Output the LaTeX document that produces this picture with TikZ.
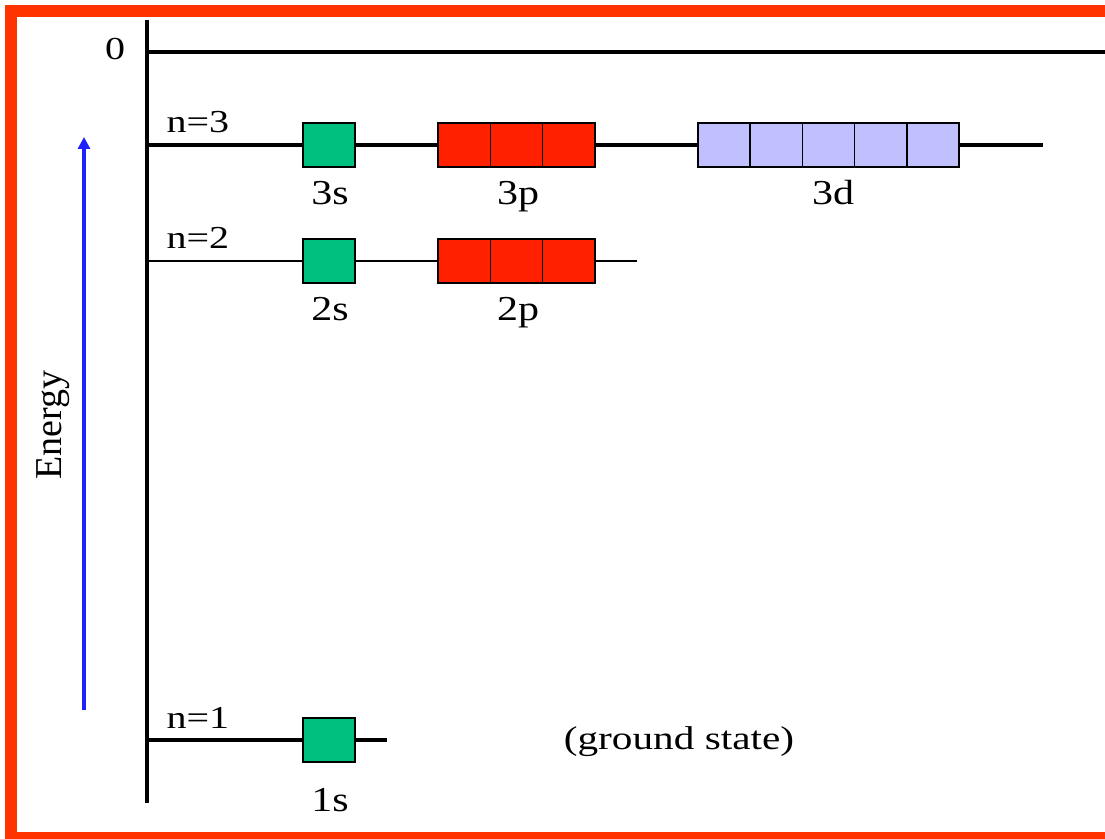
\documentclass[tikz,border=0pt]{standalone}
\usepackage{fontspec}
\setmainfont{Liberation Serif}
\usetikzlibrary{arrows.meta}

\definecolor{framered}{RGB}{255,51,0}
\definecolor{sgreen}{RGB}{0,192,128}
\definecolor{pred}{RGB}{255,32,0}
\definecolor{dblue}{RGB}{192,192,255}
\definecolor{eblue}{RGB}{32,32,255}

\begin{document}
\begin{tikzpicture}[x=0.5pt, y=-0.5pt,
  cell/.style={draw, line width=0.8pt, minimum width=26.2pt, minimum height=22pt, inner sep=0pt},
  sbox/.style={cell, fill=sgreen},
  pbox/.style={cell, fill=pred},
  dbox/.style={cell, fill=dblue},
  lvl/.style={line width=1.6pt},
  nlbl/.style={font=\fontsize{16}{19}\selectfont, xscale=1.25, anchor=base west, inner sep=0pt},
  olbl/.style={font=\fontsize{17.5}{21}\selectfont, xscale=1.2, anchor=base, inner sep=0pt},
  arr/.style={-{Triangle[length=6pt,width=6pt]}, line width=2pt, eblue}
]
\path[use as bounding box, fill=white] (0,0) rectangle (1105,839);
\clip (0,0) rectangle (1105,839);

% frame (open on the right)
\draw[line width=6pt, framered] (1110,11) -- (11,11) -- (11,838) -- (1110,838);

% axis and levels
\coordinate (atop) at (147,20);
\coordinate (abot) at (147,803);
\draw[line width=1.6pt] (atop) -- (abot);

\coordinate (l0) at (147,52);
\coordinate (l0end) at (1110,52);
\coordinate (l3) at (147,145);
\coordinate (l3end) at (1043,145);
\coordinate (l2) at (147,261);
\coordinate (l2end) at (637,261);
\coordinate (l1) at (147,740);
\coordinate (l1end) at (387,740);

\draw[line width=1.8pt] (l0) -- (l0end);
\draw[lvl] (l3) -- (l3end);
\draw[line width=1pt] (l2) -- (l2end);
\draw[lvl] (l1) -- (l1end);

\node[font=\fontsize{16}{19}\selectfont, xscale=1.25, anchor=base, inner sep=0pt] (zero) at (115,60) {0};
\node[nlbl] (n3) at (166,133) {n=3};
\node[nlbl] (n2) at (166,249) {n=2};
\node[nlbl] (n1) at (166,729) {n=1};

% orbitals
\node[sbox] (s3) at (329,145) {};
\foreach \i in {0,1,2}
  \node[pbox] (p3\i) at ({464.2+52.3*\i},145) {};
\foreach \i in {0,1,2,3,4}
  \node[dbox] (d3\i) at ({724.1+52.2*\i},145) {};

\node[sbox] (s2) at (329,261) {};
\foreach \i in {0,1,2}
  \node[pbox] (p2\i) at ({464.2+52.3*\i},261) {};

\node[sbox] (s1) at (329,740) {};

\node[olbl] (s3lbl) at (330,205) {3s};
\node[olbl] (p3lbl) at (518,205) {3p};
\node[olbl] (d3lbl) at (833,205) {3d};
\node[olbl] (s2lbl) at (330,321) {2s};
\node[olbl] (p2lbl) at (518,321) {2p};
\node[olbl] (s1lbl) at (330,812) {1s};

\node[font=\fontsize{16.5}{20}\selectfont, xscale=1.25, anchor=base, inner sep=0pt] (ground) at (679,750) {(ground state)};

% energy arrow
\coordinate (ebot) at (84,710);
\coordinate (etop) at (84,137);
\draw[arr] (ebot) -- (etop);
\node[rotate=90, font=\fontsize{19}{22}\selectfont, inner sep=0pt] (energy) at (53,425) {Energy};

\end{tikzpicture}
\end{document}
